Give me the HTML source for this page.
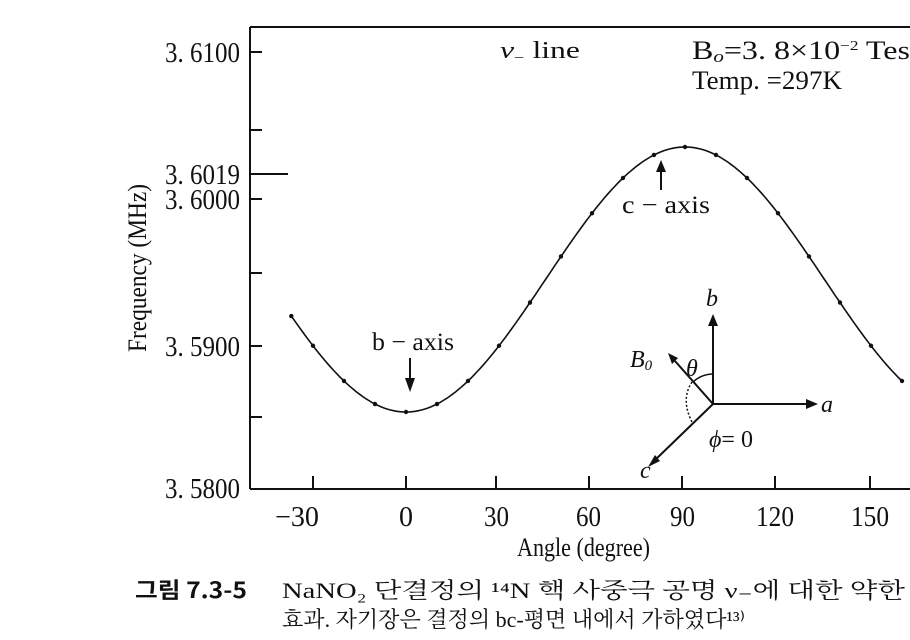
<!DOCTYPE html>
<html><head><meta charset="utf-8"><style>
body{margin:0;background:#fff;}
svg text{font-family:"Liberation Serif","Noto Serif CJK SC",serif;fill:#111;}
</style></head><body>
<svg width="910" height="635" viewBox="0 0 910 635" xmlns="http://www.w3.org/2000/svg">
<g stroke="#111" stroke-width="2" fill="none">
<line x1="250" y1="27" x2="910" y2="27"/>
<line x1="250" y1="27" x2="250" y2="489"/>
<line x1="250" y1="489" x2="910" y2="489"/>
<line x1="250" y1="52" x2="262" y2="52"/>
<line x1="250" y1="130" x2="262" y2="130"/>
<line x1="250" y1="174" x2="288" y2="174"/>
<line x1="250" y1="199" x2="262" y2="199"/>
<line x1="250" y1="273" x2="262" y2="273"/>
<line x1="250" y1="346" x2="262" y2="346"/>
<line x1="250" y1="417" x2="262" y2="417"/>
<line x1="313" y1="476" x2="313" y2="489"/>
<line x1="406" y1="476" x2="406" y2="489"/>
<line x1="496" y1="476" x2="496" y2="489"/>
<line x1="589" y1="476" x2="589" y2="489"/>
<line x1="682" y1="476" x2="682" y2="489"/>
<line x1="775" y1="476" x2="775" y2="489"/>
<line x1="870" y1="476" x2="870" y2="489"/>
</g>
<path id="curve" fill="none" stroke="#111" stroke-width="1.6" d=""/>
<g id="pts" fill="#111"></g>
<script>
var d="";
function X(a){return 406+3.1*a;}
function Y(a){return 279.5+132.5*Math.cos(2*a*Math.PI/180);}
for(var a=-37;a<=160;a+=1){d+=(a==-37?"M":"L")+X(a).toFixed(1)+" "+Y(a).toFixed(1);}
document.getElementById("curve").setAttribute("d",d);
var g=document.getElementById("pts");
[-37,-30,-20,-10,0,10,20,30,40,50,60,70,80,90,100,110,120,130,140,150,160].forEach(function(a){
var c=document.createElementNS("http://www.w3.org/2000/svg","circle");
c.setAttribute("cx",X(a));c.setAttribute("cy",Y(a));c.setAttribute("r",2.2);g.appendChild(c);});
</script>
<g font-size="28">
<text x="165" y="62" textLength="75" lengthAdjust="spacingAndGlyphs">3. 6100</text>
<text x="165" y="184" textLength="75" lengthAdjust="spacingAndGlyphs">3. 6019</text>
<text x="165" y="209" textLength="75" lengthAdjust="spacingAndGlyphs">3. 6000</text>
<text x="165" y="356" textLength="75" lengthAdjust="spacingAndGlyphs">3. 5900</text>
<text x="165" y="498" textLength="75" lengthAdjust="spacingAndGlyphs">3. 5800</text>
</g>
<g font-size="28">
<text x="275" y="526" textLength="44" lengthAdjust="spacingAndGlyphs">−30</text>
<text x="399" y="526" textLength="14" lengthAdjust="spacingAndGlyphs">0</text>
<text x="484" y="526" textLength="25" lengthAdjust="spacingAndGlyphs">30</text>
<text x="576" y="526" textLength="25" lengthAdjust="spacingAndGlyphs">60</text>
<text x="670" y="526" textLength="25" lengthAdjust="spacingAndGlyphs">90</text>
<text x="756" y="526" textLength="38" lengthAdjust="spacingAndGlyphs">120</text>
<text x="851" y="526" textLength="38" lengthAdjust="spacingAndGlyphs">150</text>
</g>
<text x="517" y="556" font-size="26" textLength="133" lengthAdjust="spacingAndGlyphs">Angle (degree)</text>
<text font-size="26" text-anchor="middle" transform="translate(146,268) rotate(-90)" textLength="168" lengthAdjust="spacingAndGlyphs">Frequency (MHz)</text>
<text x="500" y="58" font-size="24" textLength="80" lengthAdjust="spacingAndGlyphs"><tspan font-style="italic">ν</tspan><tspan font-size="14" dy="4">−</tspan><tspan dy="-4">  line</tspan></text>
<text x="692" y="59" font-size="26" textLength="218" lengthAdjust="spacingAndGlyphs">B<tspan font-style="italic" font-size="17" dy="3">o</tspan><tspan dy="-3">=3. 8×10</tspan><tspan font-size="14" dy="-9">−2</tspan><tspan dy="9"> Tes</tspan></text>
<text x="692" y="89" font-size="26" textLength="150" lengthAdjust="spacingAndGlyphs">Temp. =297K</text>
<text x="622" y="213" font-size="25" textLength="88" lengthAdjust="spacingAndGlyphs">c − axis</text>
<line x1="661" y1="190" x2="661" y2="165" stroke="#111" stroke-width="2"/>
<path d="M656,172 L661,160 L666,172Z" fill="#111"/>
<text x="372" y="350" font-size="25" textLength="82" lengthAdjust="spacingAndGlyphs">b − axis</text>
<line x1="410" y1="358" x2="410" y2="384" stroke="#111" stroke-width="2"/>
<path d="M405,378 L410,392 L415,378Z" fill="#111"/>
<g stroke="#111" stroke-width="2" fill="none">
<line x1="713" y1="404" x2="713" y2="322"/>
<line x1="713" y1="404" x2="808" y2="404"/>
<line x1="713" y1="404" x2="653" y2="462"/>
<line x1="713" y1="404" x2="675" y2="361"/>
<path d="M693,382 A30 30 0 0 1 713,374" stroke-width="1.5"/>
<path d="M692,382 Q680,400 693,424" stroke-width="1.5" stroke-dasharray="2 2"/>
</g>
<path d="M708,326 L713,314 L718,326Z M806,399 L818,404 L806,409Z M655,455 L648,467 L660,461Z M678,358 L668,353 L672,364Z" fill="#111"/>
<g font-size="24" font-style="italic">
<text x="706" y="306">b</text>
<text x="821" y="412">a</text>
<text x="640" y="478">c</text>
<text x="630" y="367">B<tspan font-size="15" dy="3">0</tspan></text>
<text x="686" y="376">θ</text>
<text x="709" y="447">ϕ<tspan font-style="normal">= 0</tspan></text>
</g>
<text x="135" y="598" font-size="22" font-weight="bold" textLength="112" lengthAdjust="spacingAndGlyphs" style="font-family:'Noto Sans CJK KR',sans-serif">그림 7.3-5</text>
<text x="282" y="598" font-size="22" textLength="623" lengthAdjust="spacingAndGlyphs" style="font-family:'Liberation Serif','Noto Serif CJK KR','Noto Serif CJK SC',serif">NaNO₂ 단결정의 ¹⁴N 핵 사중극  공명 ν₋에 대한  약한</text>
<text x="282" y="627" font-size="22" textLength="463" lengthAdjust="spacingAndGlyphs" style="font-family:'Liberation Serif','Noto Serif CJK KR','Noto Serif CJK SC',serif">효과. 자기장은 결정의 bc-평면 내에서 가하였다¹³⁾</text>
</svg>
</body></html>
